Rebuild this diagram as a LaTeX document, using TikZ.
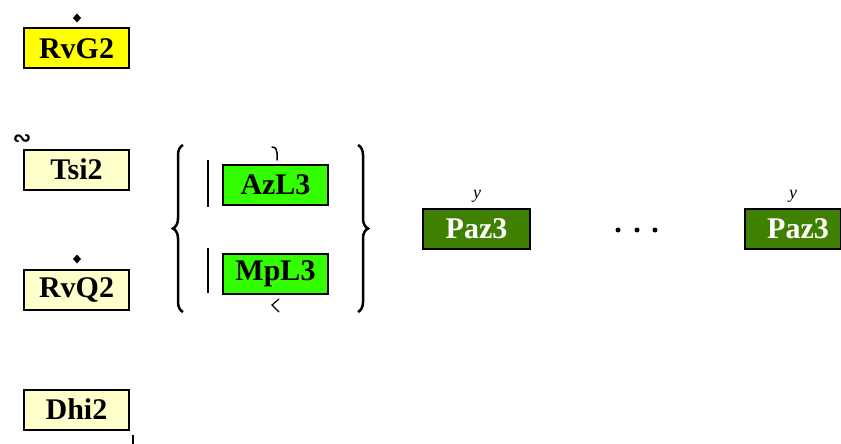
\documentclass[tikz,border=0pt]{standalone}
\usepackage{fontspec}
\setmainfont{Liberation Serif}
\newfontfamily\djv{DejaVu Sans}
\usetikzlibrary{decorations.pathreplacing}
\definecolor{yel}{RGB}{255,255,0}
\definecolor{pale}{RGB}{255,255,204}
\definecolor{lgreen}{RGB}{51,255,0}
\definecolor{dgreen}{RGB}{64,128,0}
\begin{document}
\begin{tikzpicture}[x=1pt,y=-1pt,
  box/.style={draw=black,line width=2pt,minimum width=105pt,minimum height=40pt,inner sep=0pt,
    font=\fontsize{30}{30}\selectfont\bfseries},
  yl/.style={font=\fontsize{18}{18}\selectfont\itshape,inner sep=0pt},
  mark line/.style={line width=1.5pt,line cap=round},
  brc/.style={decorate,decoration={brace,amplitude=10pt},line width=2.5pt}]
\useasboundingbox (0,0) rectangle (841,444);
% left column
\node[box,fill=yel] (rvg) at (76.5,48.5) {RvG2};
\node[box,fill=pale] (tsi) at (76.5,169.5) {Tsi2};
\node[box,fill=pale] (rvq) at (76.5,289.5) {RvQ2};
\node[box,fill=pale] (dhi) at (76.5,409.5) {Dhi2};
\fill (77,13.5) -- (81,18) -- (77,22.5) -- (73,18) -- cycle;
\fill (77,254.5) -- (81,259) -- (77,263.5) -- (73,259) -- cycle;
\node[inner sep=0pt,font=\djv\bfseries\fontsize{22}{22}\selectfont] (tl) at (22,140) {∾};
\coordinate (dt) at (133,435);
\draw[line width=1.5pt] (dt) -- (133,444);
% braces group
\node[box,fill=lgreen] (azl) at (275.5,185) {AzL3};
\node[box,fill=lgreen] (mpl) at (275.5,274) {MpL3};
\draw[brc] (183,312) -- (183,145);
\draw[brc] (358,145) -- (358,312);
\draw[line width=1.5pt] (208,160) -- (208,207);
\draw[line width=1.5pt] (208,248) -- (208,293);
\draw[mark line] (272,147) .. controls (276,147) and (277,150) .. (277,153) -- (277,160);
\draw[line width=1.2pt] (279,299) -- (272,305) -- (279,312);
% Paz3
\node[box,fill=dgreen,text=white,minimum width=107pt] (paz1) at (476.5,229) {Paz3};
\node[yl] (y1) at (477,196) {y};
\fill (618,230) circle (2.5) (637,230) circle (2.5) (655,230) circle (2.5);
\node[box,fill=dgreen,text=white,minimum width=96pt,anchor=west] (paz2) at (744,229) {\hspace*{10pt}Paz3};
\node[yl] (y2) at (793,196) {y};
\end{tikzpicture}
\end{document}
